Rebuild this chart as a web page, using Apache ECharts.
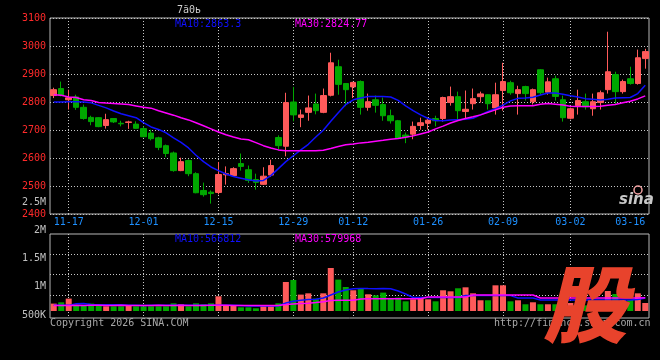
<!DOCTYPE html>
<html><head><meta charset="utf-8">
<script src="https://cdn.jsdelivr.net/npm/echarts@6/dist/echarts.min.js"></script>
<style>html,body{margin:0;padding:0;background:#000}#c{width:660px;height:360px}</style>
</head><body><div id="c"></div>
<script>
const dates = ['11-13','11-14','11-17','11-18','11-19','11-20','11-21','11-24','11-25','11-26','11-27','11-28',
'12-01','12-02','12-03','12-04','12-05','12-08','12-09','12-10','12-11','12-12','12-15','12-16','12-17','12-18','12-19',
'12-22','12-23','12-24','12-25','12-26','12-29','12-30','12-31',
'01-05','01-06','01-07','01-08','01-09','01-12','01-13','01-14','01-15','01-16','01-19','01-20','01-21','01-22','01-23',
'01-26','01-27','01-28','01-29','01-30','02-02','02-03','02-04','02-05','02-06','02-09','02-10','02-11','02-12','02-13',
'02-24','02-25','02-26','02-27','03-02','03-03','03-04','03-05','03-06','03-09','03-10','03-11','03-12','03-13','03-16'];
const opens  = [2823,2848,2808,2818,2781,2745,2744,2716,2741,2724,2727,2721,2705,2689,2672,2644,2618,2555,2591,2544,
2484,2478,2477,2540,2537,2580,2558,2523,2506,2539,2673,2642,2800,2745,2763,2793,2763,2824,2926,2866,
2854,2873,2781,2808,2791,2751,2733,2682,2685,2716,2724,2741,2741,2798,2819,2766,2794,2819,2826,2779,
2841,2869,2830,2855,2801,2915,2835,2883,2808,2742,2787,2801,2776,2798,2844,2898,2837,2883,2866,2955];
const closes = [2844,2824,2815,2781,2741,2730,2712,2737,2729,2722,2729,2706,2676,2669,2638,2616,2555,2587,2544,2476,
2469,2473,2541,2544,2562,2570,2520,2513,2535,2573,2644,2798,2754,2754,2779,2769,2823,2940,2863,2844,
2870,2781,2801,2788,2751,2733,2670,2675,2713,2726,2735,2733,2816,2819,2769,2774,2812,2829,2794,2826,
2873,2833,2844,2830,2844,2833,2872,2820,2744,2776,2805,2783,2801,2833,2908,2837,2873,2866,2958,2980];
const lows   = [2814,2820,2773,2772,2737,2717,2710,2705,2725,2713,2704,2704,2674,2663,2628,2603,2551,2553,2535,2474,
2462,2437,2470,2505,2535,2555,2511,2487,2504,2532,2630,2606,2731,2710,2733,2756,2760,2820,2826,2785,
2814,2755,2769,2762,2733,2723,2668,2653,2667,2701,2702,2713,2730,2787,2737,2741,2773,2798,2773,2755,
2769,2826,2755,2805,2791,2826,2826,2805,2730,2738,2755,2773,2751,2773,2830,2791,2830,2862,2862,2919];
const highs  = [2851,2873,2844,2826,2791,2751,2746,2758,2741,2733,2733,2731,2713,2701,2676,2648,2623,2601,2595,2549,
2512,2484,2586,2570,2567,2616,2573,2544,2567,2594,2681,2833,2854,2773,2823,2830,2848,2976,2951,2866,
2872,2877,2830,2823,2816,2773,2736,2691,2730,2744,2744,2751,2819,2855,2837,2841,2848,2837,2828,2869,
2940,2876,2858,2858,2848,2917,2887,2894,2823,2780,2844,2830,2830,2841,3051,2908,2880,2926,2987,2990];
const ma10 = [2800,2800,2801,2801,2800,2797,2788,2779,2768,2758,2751,2744,2726,2711,2702,2690,2672,2656,2636,2610,
2587,2568,2555,2543,2534,2528,2522,2518,2520,2537,2562,2587,2608,2629,2649,2675,2699,2731,2762,2791,
2808,2814,2820,2820,2820,2818,2806,2786,2769,2754,2741,2734,2733,2736,2737,2738,2742,2754,2766,2776,
2789,2804,2813,2814,2817,2825,2832,2832,2828,2822,2818,2812,2810,2807,2810,2814,2815,2816,2830,2860];
const ma30 = [2826,2824,2818,2816,2808,2805,2798,2796,2795,2793,2791,2786,2781,2778,2769,2761,2753,2744,2736,2726,
2715,2704,2693,2683,2675,2668,2665,2655,2644,2636,2629,2626,2626,2626,2626,2626,2628,2634,2641,2647,
2650,2654,2656,2660,2663,2667,2670,2674,2679,2686,2693,2704,2714,2725,2734,2741,2747,2754,2763,2772,
2781,2786,2787,2787,2787,2792,2795,2792,2789,2785,2784,2784,2784,2785,2788,2791,2797,2803,2811,2822];
const volumes = [415000,447000,540000,372000,372000,415000,398000,348000,348000,348000,372000,348000,348000,348000,348000,348000,
422000,398000,348000,422000,398000,422000,598000,372000,372000,322000,322000,298000,372000,372000,422000,955000,
1005000,640000,672000,540000,672000,1305000,1015000,830000,748000,780000,648000,622000,690000,540000,565000,472000,
522000,565000,522000,472000,748000,722000,798000,822000,672000,498000,498000,872000,872000,472000,498000,398000,
448000,398000,398000,398000,480000,430000,430000,372000,405000,405000,730000,655000,505000,505000,672000,430000];
const volMa10 = [372000,374000,371000,414000,416000,390000,388000,386000,389000,385000,
372000,373000,370000,372000,371000,374000,372000,373000,371000,372000,
373000,372000,371000,374000,372000,370000,356000,354000,355000,356000,
358000,430000,472000,498000,515000,522000,555000,630000,705000,755000,
788000,792000,790000,789000,791000,786000,730000,655000,568000,566000,
567000,569000,566000,568000,567000,616000,618000,617000,619000,616000,
618000,615000,556000,554000,553000,506000,504000,505000,503000,506000,
505000,504000,506000,505000,503000,506000,505000,507000,520000,555000];
const volMa30 = [368000,369000,370000,371000,370000,372000,371000,370000,369000,371000,
370000,369000,368000,370000,371000,369000,370000,371000,370000,369000,
370000,371000,372000,371000,370000,369000,368000,369000,368000,369000,
370000,392000,405000,415000,425000,440000,460000,490000,497000,498000,
500000,530000,537000,538000,537000,536000,538000,537000,539000,537000,
580000,581000,579000,580000,582000,580000,630000,631000,629000,630000,
632000,630000,629000,631000,630000,556000,555000,554000,556000,555000,
554000,556000,555000,554000,556000,555000,554000,556000,558000,560000];
const dateTickLabels = ['11-17','12-01','12-15','12-29','01-12','01-26','02-09','03-02','03-16'];
const dateGridLines = ['11-17','12-01','12-15','12-29','01-12','01-26','02-09','03-02'];
const volTickLabels = ['500K','1M','1.5M','2M','2.5M'];
const priceLegend = ['MA10:2863.3','MA30:2824.77'];
const volLegend = ['MA10:566812','MA30:579968'];

const RED = '#ff5a5a', GREEN = '#00a800', BLUE = '#1010ff', MAG = '#ff00ff';
const GRID = '#c8c8c8', BORDER = '#b8b8b8';
const MONO = '"DejaVu Sans Mono", monospace';

const chart = echarts.init(document.getElementById('c'), null, {renderer: 'canvas'});
const grids = [
  {left: 50, right: 11, top: 18, height: 196, show: true, borderColor: BORDER, borderWidth: 1},
  {left: 50, right: 11, top: 234, height: 84, show: true, borderColor: BORDER, borderWidth: 1},
  {left: 50, right: 11, top: 234, height: 81},
  {left: 50, right: 11, top: 234, height: 77},
  {left: 50, right: 11, top: 202, height: 113}
];
const xAxes = grids.map((g, i) => ({
  type: 'category', gridIndex: i, data: dates, boundaryGap: true,
  axisLine: {show: false}, axisTick: {show: false},
  axisLabel: {show: i === 0, interval: (idx, v) => dateTickLabels.includes(v), color: '#1e90ff',
    fontFamily: MONO, fontSize: 10, margin: 3, alignMaxLabel: 'right'},
  splitLine: {show: i === 0 || i === 1, alignWithLabel: true, interval: (idx, v) => dateGridLines.includes(v),
    lineStyle: {color: GRID, type: [1, 2], width: 1}}
}));
const yAxes = [
  {type: 'value', gridIndex: 0, min: 2400, max: 3100, interval: 100,
   axisLine: {show: false}, axisTick: {show: false},
   axisLabel: {formatter: v => String(v), color: '#ff2a2a', fontFamily: MONO, fontSize: 10, margin: 4},
   splitLine: {show: true, lineStyle: {color: GRID, type: [1, 2]}}},
  {type: 'value', gridIndex: 1, show: false},
  {type: 'value', gridIndex: 2, min: 0, max: 4, interval: 1,
   axisLine: {show: false}, axisTick: {show: false}, axisLabel: {show: false},
   splitLine: {show: true, showMinLine: false, showMaxLine: false, lineStyle: {color: GRID, type: [1, 2]}}},
  {type: 'value', gridIndex: 3, min: 230000, max: 2155000, show: false, splitLine: {show: false}},
  {type: 'value', gridIndex: 4, min: 0, max: 4, interval: 1,
   axisLine: {show: false}, axisTick: {show: false}, splitLine: {show: false},
   axisLabel: {formatter: v => volTickLabels[v] || '', color: '#c0c0c0', fontFamily: MONO, fontSize: 10, margin: 4}}
];
const txt = (text, x, y, fill, font, z) => ({type: 'text', x, y, z: z || 10,
  style: {text, fill, font: font || ('10px ' + MONO), textVerticalAlign: 'top'}});

chart.setOption({
  backgroundColor: '#000',
  animation: false,
  grid: grids, xAxis: xAxes, yAxis: yAxes,
  series: [
    {type: 'candlestick', xAxisIndex: 0, yAxisIndex: 0, barWidth: 6,
     data: dates.map((d, i) => [opens[i], closes[i], lows[i], highs[i]]),
     itemStyle: {color: RED, color0: GREEN, borderColor: RED, borderColor0: GREEN, borderWidth: 1}},
    {type: 'line', xAxisIndex: 0, yAxisIndex: 0, data: ma10, symbol: 'none', lineStyle: {color: BLUE, width: 1.5}, z: 3},
    {type: 'line', xAxisIndex: 0, yAxisIndex: 0, data: ma30, symbol: 'none', lineStyle: {color: MAG, width: 1.5}, z: 3},
    {type: 'bar', xAxisIndex: 3, yAxisIndex: 3, barWidth: 6,
     data: volumes.map((v, i) => ({value: v, itemStyle: {color: closes[i] >= opens[i] ? RED : GREEN}}))},
    {type: 'line', xAxisIndex: 3, yAxisIndex: 3, data: volMa10, symbol: 'none', lineStyle: {color: BLUE, width: 1.5}, z: 3},
    {type: 'line', xAxisIndex: 3, yAxisIndex: 3, data: volMa30, symbol: 'none', lineStyle: {color: MAG, width: 1.5}, z: 3}
  ],
  graphic: [
    txt('7ã0ь', 177, 5, '#d0d0d0'),
    txt(priceLegend[0], 175, 19, BLUE),
    txt(priceLegend[1], 295, 19, MAG),
    txt(volLegend[0], 175, 234, BLUE),
    txt(volLegend[1], 295, 234, MAG),
    txt('Copyright 2026 SINA.COM', 50, 318, '#a8a8a8'),
    txt('http://finance.sina.com.cn', 494, 318, '#a8a8a8'),
    txt('sina', 619, 193, '#c8c8c8', 'italic bold 15px "DejaVu Sans"'),
    {type: 'circle', shape: {cx: 638, cy: 190, r: 4}, z: 10, style: {fill: 'none', stroke: '#f0a0a0', lineWidth: 1.5}},
    txt('股', 543, 262, '#e8432c', 'italic 900 84px "Noto Sans CJK SC"', 20)
  ]
});
</script></body></html>
